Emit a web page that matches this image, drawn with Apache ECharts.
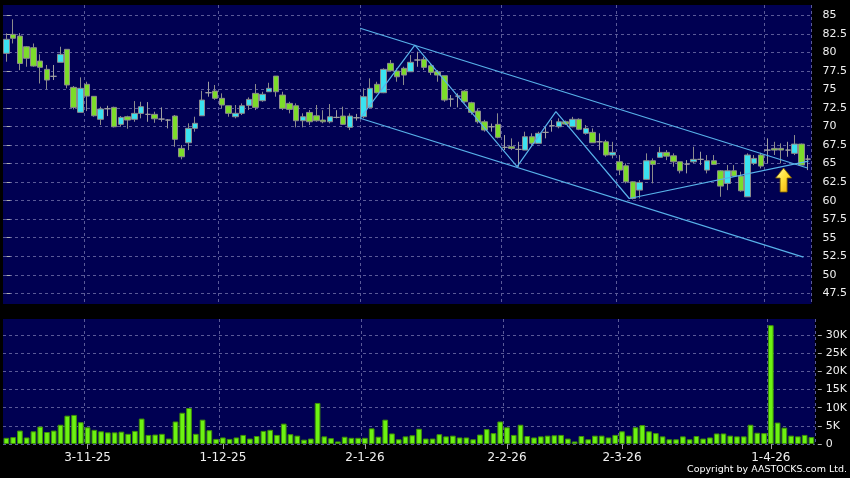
<!DOCTYPE html>
<html><head><meta charset="utf-8">
<script src="https://cdn.jsdelivr.net/npm/echarts@6/dist/echarts.min.js"></script>
<style>html,body{margin:0;padding:0;background:#000;}#c{width:850px;height:478px;}</style>
</head><body><div id="c"></div>
<script>
const categories = [
'15-10-25','16-10-25','17-10-25','20-10-25','21-10-25','22-10-25','23-10-25','24-10-25','27-10-25','28-10-25','30-10-25','31-10-25',
'3-11-25','4-11-25','5-11-25','6-11-25','7-11-25','10-11-25','11-11-25','12-11-25','13-11-25','14-11-25',
'17-11-25','18-11-25','19-11-25','20-11-25','21-11-25','24-11-25','25-11-25','26-11-25','27-11-25','28-11-25',
'1-12-25','2-12-25','3-12-25','4-12-25','5-12-25','8-12-25','9-12-25','10-12-25','11-12-25','12-12-25',
'15-12-25','16-12-25','17-12-25','18-12-25','19-12-25','22-12-25','23-12-25','24-12-25','29-12-25','30-12-25','31-12-25',
'2-1-26','5-1-26','6-1-26','7-1-26','8-1-26','9-1-26','12-1-26','13-1-26','14-1-26','15-1-26','16-1-26',
'19-1-26','20-1-26','21-1-26','22-1-26','23-1-26','26-1-26','27-1-26','28-1-26','29-1-26','30-1-26',
'2-2-26','3-2-26','4-2-26','5-2-26','6-2-26','9-2-26','10-2-26','11-2-26','12-2-26','13-2-26','16-2-26','20-2-26',
'23-2-26','24-2-26','25-2-26','26-2-26','27-2-26',
'2-3-26','3-3-26','4-3-26','5-3-26','6-3-26','9-3-26','10-3-26','11-3-26','12-3-26','13-3-26',
'16-3-26','17-3-26','18-3-26','19-3-26','20-3-26','23-3-26','24-3-26','25-3-26','26-3-26','27-3-26','30-3-26','31-3-26',
'1-4-26','2-4-26','8-4-26','9-4-26','10-4-26','13-4-26','14-4-26'];
const tickLabels = ['3-11-25','1-12-25','2-1-26','2-2-26','2-3-26','1-4-26'];
const openP = [79.87,82.43,82.20,80.76,80.63,78.83,77.71,76.77,78.66,80.41,75.28,71.91,75.69,74.07,70.97,72.40,72.58,70.29,71.32,70.97,
71.77,71.64,71.64,71.00,70.87,71.41,67.05,67.81,69.75,71.45,74.56,74.78,73.80,72.80,71.32,71.78,72.85,74.47,73.48,74.69,
76.80,74.24,73.12,72.80,70.78,71.90,71.45,70.87,70.64,71.23,71.41,69.89,71.18,71.32,72.58,75.69,74.56,78.52,77.48,77.85,
77.39,78.97,79.06,78.20,77.39,76.85,73.70,74.10,74.78,73.21,72.08,70.64,69.97,70.29,67.19,67.28,66.92,66.82,68.62,67.73,
69.21,70.10,69.97,70.64,69.97,70.97,69.08,69.21,67.94,67.94,66.15,65.24,64.70,62.54,61.42,62.87,65.38,65.84,66.51,66.05,
65.24,64.93,65.24,65.57,64.12,65.38,64.03,62.33,64.03,63.31,60.52,65.03,66.15,66.82,67.05,67.05,66.82,66.38,67.63,65.60];
const closeP = [81.76,81.90,78.50,79.20,78.16,77.98,76.27,76.77,79.74,75.60,72.58,75.15,74.10,71.45,72.36,72.40,69.97,71.23,70.87,71.77,
72.67,71.64,71.04,71.00,70.87,68.27,65.92,69.75,70.43,73.57,74.56,73.80,72.90,71.78,71.78,72.80,73.66,72.58,74.34,75.15,
74.69,72.45,72.31,70.78,71.32,70.64,70.78,70.64,71.32,71.23,70.29,71.41,71.18,74.02,75.15,74.56,77.71,77.52,76.71,76.94,
78.66,78.97,77.98,77.31,76.94,73.57,73.70,74.10,73.34,71.91,70.64,69.52,69.97,68.54,67.19,67.05,66.92,68.62,67.73,69.08,
69.21,70.10,70.64,70.33,70.97,69.62,69.75,67.81,67.94,66.15,66.51,64.12,62.54,60.30,62.46,65.38,64.89,66.51,66.00,65.24,
64.03,64.93,65.57,65.57,65.38,64.89,61.96,64.03,63.31,61.33,66.15,65.70,64.66,66.82,66.82,66.82,66.82,67.63,64.80,65.60];
const lowP = [78.74,81.20,77.60,78.06,78.06,75.80,75.00,76.27,78.66,75.15,72.31,71.91,72.08,71.32,70.20,71.41,69.88,69.97,69.70,70.64,
71.10,70.64,70.50,70.64,69.75,67.27,65.57,66.82,69.30,71.45,74.02,73.60,72.45,71.32,71.10,71.55,72.22,72.22,73.34,74.69,
74.02,72.22,71.78,69.89,69.89,70.20,70.64,70.43,70.43,71.10,70.20,69.52,70.80,71.10,72.45,74.47,74.50,77.39,76.04,75.60,
77.39,78.06,77.62,76.94,76.04,73.34,72.67,72.58,73.20,71.60,70.40,69.30,69.30,68.40,66.82,66.82,64.57,66.82,67.50,67.73,
68.40,69.30,69.75,70.20,69.90,69.50,68.90,67.80,66.82,65.92,65.70,63.45,62.33,60.17,60.30,62.80,62.33,65.84,65.47,64.57,
63.68,63.68,65.03,64.80,63.68,64.80,60.52,61.42,63.22,61.20,60.52,64.80,64.35,65.03,66.15,65.03,65.92,66.15,64.80,64.12];
const highP = [82.57,84.46,82.60,80.85,81.20,79.74,78.30,78.30,80.76,80.41,75.46,76.63,76.04,74.10,72.67,72.80,72.67,71.41,71.45,73.43,
73.34,73.30,72.00,72.58,71.00,71.55,67.50,70.43,71.32,74.82,76.04,75.60,74.47,72.80,72.90,73.12,73.93,75.73,74.69,75.90,
76.80,74.69,73.34,73.12,71.78,72.22,72.90,72.20,73.03,72.20,72.67,71.78,71.70,75.15,76.50,76.04,77.85,78.97,77.85,78.06,
79.64,80.09,79.41,78.52,77.62,76.85,74.24,74.47,74.90,73.34,72.40,70.90,70.40,71.78,68.85,68.40,67.94,69.30,69.08,69.30,
69.97,70.87,71.10,70.80,71.30,71.10,70.20,69.75,69.08,68.20,67.94,66.15,65.03,62.60,62.77,66.38,65.70,67.27,66.82,66.38,
65.24,65.47,67.27,66.60,66.15,66.15,64.12,64.80,64.80,63.90,66.38,66.15,66.46,68.40,67.94,67.73,67.94,68.85,67.70,66.15];
const volume = [1700,1900,3700,1800,3500,4800,3300,3700,5300,7800,8000,6000,4600,3900,3500,3200,3200,3400,2800,3600,
7000,2500,2600,2800,1500,6200,8600,9900,2800,6700,3800,1400,1800,1400,1800,2500,1500,2200,3600,3900,
2500,5600,2700,2300,1200,1500,11300,2100,1600,700,2000,1700,1700,1700,4300,2000,6700,2900,1300,2100,
2400,4200,1500,1500,2700,2100,2300,1800,1800,1300,2600,4100,3000,6200,4600,2500,5300,2200,1800,2100,
2300,2400,2500,1500,700,2200,1300,2300,2300,1800,2500,3500,2300,4600,5200,3500,3000,2100,1300,1300,
2100,1300,2200,1500,1800,2900,2900,2300,2100,2100,5300,3100,3000,32700,5900,4500,2300,2100,2500,1900];
const priceTicks = [47.5,50,52.5,55,57.5,60,62.5,65,67.5,70,72.5,75,77.5,80,82.5,85];
const volumeTicks = [0,5000,10000,15000,20000,25000,30000];
// annotation lines in (candle index, price) coordinates
const upperChannel = [[52.5,83.25],[118.9,64.40]];
const lowerChannel = [[52.5,71.11],[118.3,52.39]];
const zigzag = [[52.5,71.11],[60.63,80.99],[75.8,64.58],[81.56,72.0],[92.45,60.29],[119.05,65.34]];
const arrowMark = [[115.36,62.78]];

const candleData = openP.map((o,i)=>[o, closeP[i], lowP[i], highP[i]]);
const showTick = (idx, val) => tickLabels.indexOf(val) >= 0;
const dash = {color:'#5a5a98', width:1, type:[3,3]};
const FONT = 'DejaVu Sans';
const TREND = '#58b2ea';

const chart = echarts.init(document.getElementById('c'), null, {renderer:'canvas'});
chart.setOption({
  backgroundColor:'#000000',
  animation:false,
  grid:[
    {left:3, right:35, top:5, height:299, show:true, backgroundColor:'#000052', borderWidth:0},
    {left:3, right:35, top:319, height:125, show:true, backgroundColor:'#000052', borderWidth:0}
  ],
  xAxis:[
    {type:'category', gridIndex:0, data:categories, boundaryGap:true,
     axisLine:{show:false}, axisTick:{show:false}, axisLabel:{show:false},
     splitLine:{show:true, interval:showTick, lineStyle:dash}},
    {type:'category', gridIndex:1, data:categories, boundaryGap:true,
     axisLine:{show:false},
     axisTick:{show:true, interval:showTick, alignWithLabel:true, length:5, lineStyle:{color:'#a0a0a0'}},
     axisLabel:{show:true, interval:showTick, color:'#f0f0f0', fontSize:12, fontFamily:FONT, margin:8},
     splitLine:{show:true, interval:showTick, lineStyle:dash}},
    {type:'value', gridIndex:0, min:-0.5, max:119.5, show:false, position:'top'}
  ],
  yAxis:[
    {type:'value', gridIndex:0, position:'right', min:46.06, max:86.39, offset:3, scale:true,
     axisLine:{show:false},
     axisTick:{show:true, length:4, customValues:priceTicks, lineStyle:{color:'#b0b0b0'}},
     axisLabel:{show:true, customValues:priceTicks, color:'#f0f0f0', fontSize:11, fontFamily:FONT, margin:8},
     splitLine:{show:true, lineStyle:dash}},
    {type:'value', gridIndex:1, position:'right', min:0, max:34400, offset:3,
     axisLine:{show:false},
     axisTick:{show:true, length:4, customValues:volumeTicks, lineStyle:{color:'#b0b0b0'}},
     axisLabel:{show:true, customValues:volumeTicks, color:'#f0f0f0', fontSize:11, fontFamily:FONT, margin:8,
       formatter:v => v === 0 ? '0' : (v/1000) + 'K'},
     splitLine:{show:true, lineStyle:dash}}
  ],
  series:[
    {type:'candlestick', xAxisIndex:0, yAxisIndex:0, data:candleData, barWidth:6,
     itemStyle:{color:'#3ae2f0', color0:'#7cdc2a', borderColor:'#8c8c8c', borderColor0:'#8c8c8c', borderColorDoji:'#a0a0a0', borderWidth:1}},
    {type:'line', xAxisIndex:2, yAxisIndex:0, data:upperChannel, symbol:'none', silent:true,
     lineStyle:{color:TREND, width:1.2}},
    {type:'line', xAxisIndex:2, yAxisIndex:0, data:lowerChannel, symbol:'none', silent:true,
     lineStyle:{color:TREND, width:1.2}},
    {type:'line', xAxisIndex:2, yAxisIndex:0, data:zigzag, symbol:'none', silent:true,
     lineStyle:{color:TREND, width:1.2}},
    {type:'scatter', xAxisIndex:2, yAxisIndex:0, data:arrowMark, silent:true, z:5,
     symbol:'path://M8,0 L16,10 L11.5,10 L11.5,24 L4.5,24 L4.5,10 L0,10 Z', symbolSize:[16,24],
     itemStyle:{color:{type:'linear', x:0, y:0, x2:1, y2:1, colorStops:[{offset:0,color:'#fffcb0'},{offset:0.45,color:'#ffe13a'},{offset:1,color:'#f0aa00'}]},
       borderColor:'#7a5c00', borderWidth:0.8, opacity:1}},
    {type:'bar', xAxisIndex:1, yAxisIndex:1, data:volume, barWidth:'84%',
     itemStyle:{color:'#6cf212', borderColor:'#3f8f08', borderWidth:1}}
  ],
  graphic:[
    {type:'text', right:3, top:465, style:{text:'Copyright by AASTOCKS.com Ltd.', fill:'#ffffff', font:'9.5px "DejaVu Sans"'}}
  ]
});
</script></body></html>
